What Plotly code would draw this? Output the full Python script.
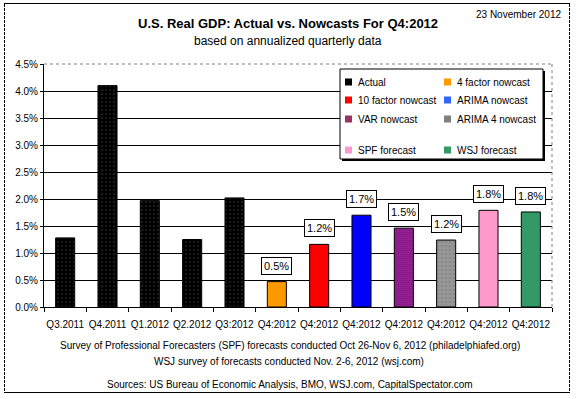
import plotly.graph_objects as go

# ---- data ----
categories = ["Q3.2011", "Q4.2011", "Q1.2012", "Q2.2012", "Q3:2012",
              "Q4:2012", "Q4:2012", "Q4:2012", "Q4:2012", "Q4:2012", "Q4:2012", "Q4:2012"]
values = [1.28, 4.10, 1.97, 1.25, 2.02, 0.47, 1.16, 1.70, 1.46, 1.24, 1.79, 1.76]
series = ["Actual", "Actual", "Actual", "Actual", "Actual",
          "4 factor nowcast", "10 factor nowcast", "ARIMA nowcast", "VAR nowcast",
          "ARIMA 4 nowcast", "SPF forecast", "WSJ forecast"]
labelled = [False, False, False, False, False, True, True, True, True, True, True, True]
y_ticks = [0, 0.5, 1.0, 1.5, 2.0, 2.5, 3.0, 3.5, 4.0, 4.5]

legend_names = ["Actual", "4 factor nowcast", "10 factor nowcast", "ARIMA nowcast",
                "VAR nowcast", "ARIMA 4 nowcast", "", "", "SPF forecast", "WSJ forecast"]

bar_colors = {"Actual": "#000000", "4 factor nowcast": "#FF9900", "10 factor nowcast": "#FF0000",
              "ARIMA nowcast": "#0000FF", "VAR nowcast": "#800080", "ARIMA 4 nowcast": "#969696",
              "SPF forecast": "#FF99CC", "WSJ forecast": "#339966"}
legend_colors = {"Actual": "#000000", "4 factor nowcast": "#FF9900", "10 factor nowcast": "#FF0000",
                 "ARIMA nowcast": "#3366FF", "VAR nowcast": "#993366", "ARIMA 4 nowcast": "#808080",
                 "SPF forecast": "#FF99CC", "WSJ forecast": "#339966"}
pat_shape = {"Actual": ".", "VAR nowcast": ".", "ARIMA 4 nowcast": "."}
pat_fg = {"Actual": "#333333", "VAR nowcast": "#3a003a", "ARIMA 4 nowcast": "#c8c8c8"}
pat_size = {"Actual": 4, "VAR nowcast": 2, "ARIMA 4 nowcast": 4}
pat_sol = {"Actual": 0.06, "VAR nowcast": 0.3, "ARIMA 4 nowcast": 0.08}

W, H = 577, 399
L, R, T, B = 44, 25, 64, 92
PW, PH = W - L - R, H - T - B
FONT = "Liberation Sans, Arial, sans-serif"


def px(x):
    return (x - L) / PW


def py(y):
    return (H - B - y) / PH


xs = list(range(len(categories)))
fig = go.Figure()
fig.add_trace(go.Bar(
    x=xs, y=values, width=0.45,
    marker=dict(
        color=[bar_colors[s] for s in series],
        line=dict(color="#000000", width=1),
        pattern=dict(
            shape=[pat_shape.get(s, "") for s in series],
            fgcolor=[pat_fg.get(s, "#000000") for s in series],
            size=[pat_size.get(s, 4) for s in series],
            solidity=[pat_sol.get(s, 0.1) for s in series],
            fillmode="overlay",
        ),
    ),
    showlegend=False, hoverinfo="skip",
))

annotations = []
for x, v, lab in zip(xs, values, labelled):
    if lab:
        annotations.append(dict(
            x=x, y=v, xref="x", yref="y", text=f"{v:.1f}%", showarrow=False,
            yanchor="bottom", yshift=7, bgcolor="#FFFFFF", bordercolor="#000000",
            borderwidth=1, borderpad=2, font=dict(family=FONT, size=11, color="#000000"),
        ))

# titles and notes
annotations += [
    dict(text="23 November 2012", x=px(563), y=py(15), xanchor="right", yanchor="middle",
         font=dict(size=10)),
    dict(text="<b>U.S. Real GDP: Actual vs. Nowcasts For Q4:2012</b>", x=px(288), y=py(23),
         xanchor="center", yanchor="middle", font=dict(size=13)),
    dict(text="based on annualized quarterly data", x=px(288), y=py(41),
         xanchor="center", yanchor="middle", font=dict(size=12)),
    dict(text="Survey of Professional Forecasters (SPF) forecasts conducted Oct 26-Nov 6, 2012 (philadelphiafed.org)",
         x=px(290), y=py(345), xanchor="center", yanchor="middle", font=dict(size=10)),
    dict(text="WSJ survey of forecasts conducted Nov. 2-6, 2012 (wsj.com)",
         x=px(289), y=py(361), xanchor="center", yanchor="middle", font=dict(size=10)),
    dict(text="Sources: US Bureau of Economic Analysis, BMO, WSJ.com, CapitalSpectator.com",
         x=px(290), y=py(384), xanchor="center", yanchor="middle", font=dict(size=10)),
]
for a in annotations[-6:]:
    a.update(xref="paper", yref="paper", showarrow=False)
    a["font"].update(family=FONT, color="#000000")

shapes = [
    # outer border
    dict(type="line", xref="paper", yref="paper", x0=px(4), x1=px(570), y0=py(3.5), y1=py(3.5),
         line=dict(color="#000000", width=1)),
    dict(type="line", xref="paper", yref="paper", x0=px(4), x1=px(570), y0=py(392.5), y1=py(392.5),
         line=dict(color="#000000", width=1)),
    dict(type="line", xref="paper", yref="paper", x0=px(4.5), x1=px(4.5), y0=py(4), y1=py(393),
         line=dict(color="#000000", width=1, dash="3px,1px")),
    dict(type="line", xref="paper", yref="paper", x0=px(569.5), x1=px(569.5), y0=py(4), y1=py(393),
         line=dict(color="#000000", width=1, dash="3px,1px")),
    # plot area dotted top/right border
    dict(type="line", xref="paper", yref="paper", x0=0, x1=1, y0=1, y1=1,
         line=dict(color="#808080", width=1, dash="dot")),
    dict(type="line", xref="paper", yref="paper", x0=1, x1=1, y0=0, y1=1,
         line=dict(color="#808080", width=1, dash="dot")),
    # legend box shadow + box
    dict(type="rect", xref="paper", yref="paper", x0=px(342), x1=px(545), y0=py(71), y1=py(161),
         fillcolor="#000000", line=dict(width=0)),
    dict(type="rect", xref="paper", yref="paper", x0=px(340), x1=px(543), y0=py(69), y1=py(159),
         fillcolor="#FFFFFF", line=dict(color="#000000", width=1)),
]

row_y = [82, 100, 119, 134, 150]
col_x = [345, 444]
for i, name in enumerate(legend_names):
    if not name:
        continue
    r, c = divmod(i, 2)
    cx, cy = col_x[c], row_y[r]
    shapes.append(dict(type="rect", xref="paper", yref="paper",
                       x0=px(cx), x1=px(cx + 7), y0=py(cy - 3.5), y1=py(cy + 3.5),
                       fillcolor=legend_colors[name], line=dict(width=0)))
    annotations.append(dict(text=name, xref="paper", yref="paper", x=px(cx + 11), y=py(cy),
                            xanchor="left", yanchor="middle", showarrow=False,
                            font=dict(family=FONT, size=10, color="#000000")))

fig.update_layout(
    width=W, height=H, margin=dict(l=L, r=R, t=T, b=B, pad=0),
    paper_bgcolor="#FFFFFF", plot_bgcolor="#FFFFFF",
    font=dict(family=FONT, size=10, color="#000000"),
    bargap=0.55, showlegend=False,
    annotations=annotations, shapes=shapes,
    xaxis=dict(
        range=[-0.5, len(categories) - 0.5], tickmode="array", tickvals=xs, ticktext=categories,
        ticks="", showgrid=False, zeroline=False, showline=True, linecolor="#000000", linewidth=1,
        tickfont=dict(size=10), ticklabelstandoff=8,
        minor=dict(tickmode="array", tickvals=[i + 0.5 for i in range(-1, len(categories))],
                   ticks="outside", ticklen=4, tickcolor="#000000", showgrid=False),
    ),
    yaxis=dict(
        range=[0, 4.5], tickmode="array", tickvals=y_ticks,
        ticktext=[f"{t:.1f}%" for t in y_ticks],
        ticks="outside", ticklen=3, tickcolor="#000000",
        showgrid=True, gridcolor="#000000", gridwidth=1, zeroline=False,
        showline=True, linecolor="#000000", linewidth=1, tickfont=dict(size=10),
    ),
)
fig.write_html("out.html", config={"displayModeBar": False, "staticPlot": True},
               post_script="document.body.style.margin='0';document.body.style.overflow='hidden';")
